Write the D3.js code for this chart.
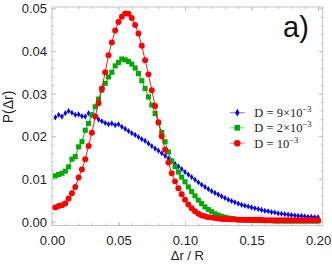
<!DOCTYPE html>
<html><head><meta charset="utf-8">
<script src="https://cdn.jsdelivr.net/npm/d3@7"></script>
<style>body{margin:0;background:#fff}svg{display:block}</style>
</head><body>
<svg id="c" width="332" height="265"></svg>
<script>
const xValues = [0.0025,0.005,0.0075,0.01,0.0125,0.015,0.0175,0.02,0.0225,0.025,0.0275,0.03,0.0325,0.035,0.0375,0.04,0.0425,0.045,0.0475,0.05,
0.0525,0.055,0.0575,0.06,0.0625,0.065,0.0675,0.07,0.0725,0.075,0.0775,0.08,0.0825,0.085,0.0875,0.09,0.0925,0.095,0.0975,0.1,
0.1025,0.105,0.1075,0.11,0.1125,0.115,0.1175,0.12,0.1225,0.125,0.1275,0.13,0.1325,0.135,0.1375,0.14,0.1425,0.145,0.1475,0.15,
0.1525,0.155,0.1575,0.16,0.1625,0.165,0.1675,0.17,0.1725,0.175,0.1775,0.18,0.1825,0.185,0.1875,0.19,0.1925,0.195,0.1975,0.2];
const blueValues = [0.0244,0.0250,0.0246,0.0254,0.0259,0.0255,0.0250,0.0251,0.0247,0.0246,0.0254,0.0250,0.0246,0.0239,0.0235,0.0231,0.0228,0.0230,0.0226,0.0228,
0.0222,0.0217,0.0212,0.0207,0.0203,0.0198,0.0193,0.0189,0.0183,0.0177,0.0171,0.0166,0.0160,0.0154,0.0148,0.0142,0.0135,0.0129,0.0123,0.0116,
0.0110,0.0104,0.0098,0.0092,0.0086,0.0081,0.0076,0.0071,0.0067,0.0063,0.0059,0.0055,0.0051,0.0048,0.0045,0.0042,0.0039,0.0037,0.0035,0.0033,
0.0031,0.0029,0.0027,0.0025,0.0024,0.0022,0.0021,0.0019,0.0018,0.0017,0.0016,0.0015,0.0014,0.0013,0.0013,0.0012,0.0011,0.0011,0.0010,0.0010];
const greenValues = [0.0107,0.0110,0.0113,0.0118,0.0128,0.0146,0.0152,0.0175,0.0187,0.0214,0.0230,0.0250,0.0269,0.0287,0.0308,0.0324,0.0339,0.0350,0.0365,0.0373,
0.0381,0.0379,0.0375,0.0369,0.0360,0.0347,0.0330,0.0312,0.0292,0.0273,0.0253,0.0231,0.0209,0.0187,0.0163,0.0142,0.0129,0.0116,0.0104,0.0093,
0.0081,0.0070,0.0060,0.0050,0.0042,0.0034,0.0028,0.0023,0.0018,0.0015,0.0012,0.0010,0.0008,0.0007,0.0005,0.0004,0.0004,0.0003,0.0003,0.0003,
0.0002,0.0002,0.0002,0.0002,0.0002,0.0002,0.0001,0.0001,0.0001,0.0001,0.0001,0.0001,0.0001,0.0001,0.0001,0.0001,0.0001,0.0001,0.0001,0.0001];
const redValues = [0.0033,0.0036,0.0038,0.0042,0.0054,0.0066,0.0081,0.0103,0.0122,0.0146,0.0177,0.0208,0.0246,0.0277,0.0312,0.0350,0.0390,0.0420,0.0448,0.0468,
0.0480,0.0488,0.0487,0.0477,0.0461,0.0441,0.0412,0.0378,0.0345,0.0308,0.0271,0.0233,0.0200,0.0168,0.0138,0.0113,0.0094,0.0078,0.0064,0.0051,
0.0040,0.0031,0.0024,0.0018,0.0014,0.0012,0.0010,0.0009,0.0008,0.0007,0.0006,0.0006,0.0005,0.0005,0.0005,0.0004,0.0004,0.0004,0.0004,0.0004,
0.0004,0.0004,0.0004,0.0003,0.0003,0.0003,0.0003,0.0003,0.0003,0.0003,0.0003,0.0003,0.0003,0.0003,0.0003,0.0003,0.0003,0.0003,0.0003,0.0003];
const seriesNames = ["D = 9×10", "D = 2×10", "D = 10"];
const xTicks = [0, 0.05, 0.10, 0.15, 0.20];
const xTickLabels = ["0.00","0.05","0.10","0.15","0.20"];
const yTicks = [0, 0.01, 0.02, 0.03, 0.04, 0.05];
const yTickLabels = ["0.00","0.01","0.02","0.03","0.04","0.05"];
const xMinor = d3.range(0, 0.2001, 0.01);
const yMinor = d3.range(0, 0.0501, 0.002);

const svg = d3.select("#c");
const L = 52, R = 322.7, T = 7, B = 225.5;
const x = d3.scaleLinear().domain([0, 0.2035]).range([L, R]);
const y = d3.scaleLinear().domain([-0.00095, 0.0503]).range([B, T]);
const frameCol = "#c4c4c4";

svg.append("rect").attr("x", L).attr("y", T).attr("width", R - L).attr("height", B - T)
  .attr("fill", "none").attr("stroke", frameCol).attr("stroke-width", 1);

function axis(gen, tr, vals, size, labels) {
  const g = svg.append("g").attr("transform", tr)
    .call(gen.tickValues(vals).tickSize(size).tickSizeOuter(0)
      .tickFormat(labels ? (d, i) => labels[i] : () => ""));
  g.select(".domain").remove();
  g.selectAll("line").attr("stroke", frameCol);
  g.selectAll("text").attr("font-family", "Liberation Sans, Arial, sans-serif")
    .attr("font-size", 13).attr("fill", "#222");
  return g;
}
const gb = axis(d3.axisBottom(x), `translate(0,${B})`, xTicks, -4, xTickLabels);
gb.selectAll("text").attr("y", 10).attr("dy", "0.71em");
axis(d3.axisBottom(x), `translate(0,${B})`, xMinor, -2, null);
axis(d3.axisTop(x), `translate(0,${T})`, xTicks, -4, null);
axis(d3.axisTop(x), `translate(0,${T})`, xMinor, -2, null);
const gl = axis(d3.axisLeft(y), `translate(${L},0)`, yTicks, -4, yTickLabels);
gl.selectAll("text").attr("x", -5).attr("dy", "0.36em");
axis(d3.axisLeft(y), `translate(${L},0)`, yMinor, -2, null);
axis(d3.axisRight(y), `translate(${R},0)`, yTicks, -4, null);
axis(d3.axisRight(y), `translate(${R},0)`, yMinor, -2, null);

const colors = ["#0000ff", "#00aa00", "#ff0000"];
const series = [blueValues, greenValues, redValues];
const symbols = [d3.symbolDiamond, d3.symbolSquare, d3.symbolCircle];
const sizes = [11, 26, 28];
const line = d3.line().x((d, i) => x(xValues[i])).y(d => y(d));

series.forEach((vals, k) => {
  svg.append("path").datum(vals).attr("d", line).attr("fill", "none")
    .attr("stroke", colors[k]).attr("stroke-width", 0.9);
  svg.append("g").selectAll("path").data(vals).join("path")
    .attr("transform", (d, i) => `translate(${x(xValues[i])},${y(d)})`)
    .attr("d", d3.symbol().type(symbols[k]).size(sizes[k]))
    .attr("fill", colors[k]);
});

const legY = [112.7, 127.8, 143.2];
const sups = ["−3", "−3", "−3"];
seriesNames.forEach((name, k) => {
  const g = svg.append("g").attr("transform", `translate(237.3,${legY[k]})`);
  g.append("line").attr("x1", -7.5).attr("x2", 7.5).attr("stroke", colors[k])
    .attr("stroke-opacity", 0.45).attr("stroke-width", 1.2);
  g.append("path").attr("d", d3.symbol().type(symbols[k]).size(sizes[k] + 6)).attr("fill", colors[k]);
  const t = g.append("text").attr("x", 17).attr("y", 4.3)
    .attr("font-family", "Liberation Serif, Times New Roman, serif").attr("font-size", 12.5).attr("fill", "#222");
  t.append("tspan").text(name);
  t.append("tspan").attr("dy", -5).attr("font-size", 8.5).text(sups[k]);
});

svg.append("text").attr("x", (L + R) / 2).attr("y", 260).attr("text-anchor", "middle")
  .attr("font-family", "Liberation Sans, Arial, sans-serif").attr("font-size", 13).attr("fill", "#222")
  .text("Δr / R");
svg.append("text").attr("transform", "translate(13,107) rotate(-90)").attr("text-anchor", "middle")
  .attr("font-family", "Liberation Sans, Arial, sans-serif").attr("font-size", 14).attr("fill", "#222")
  .text("P(Δr)");
svg.append("text").attr("x", 283).attr("y", 36.5)
  .attr("font-family", "Liberation Sans, Arial, sans-serif").attr("font-size", 29).attr("fill", "#111")
  .text("a)");
</script>
</body></html>
